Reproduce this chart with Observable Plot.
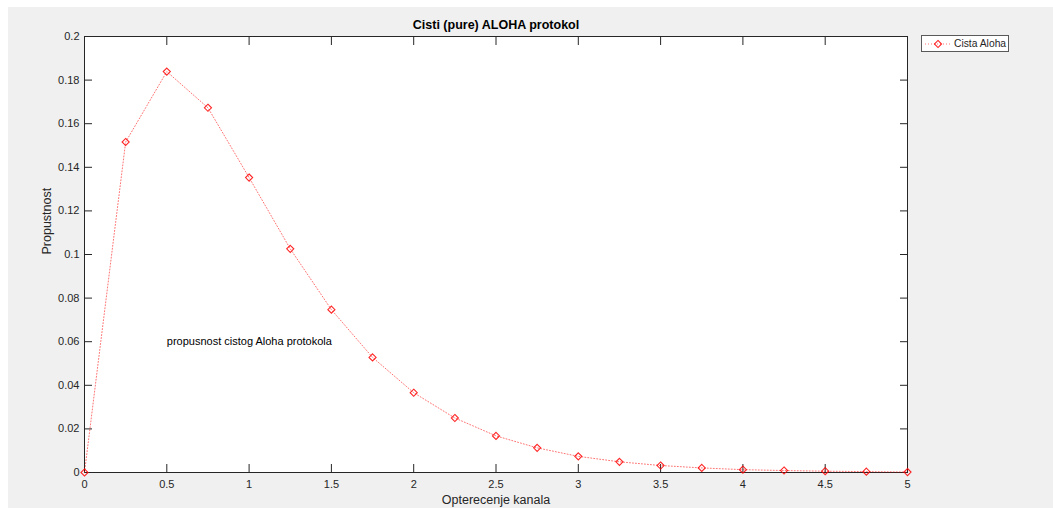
<!DOCTYPE html>
<html>
<head>
<meta charset="utf-8">
<script src="https://cdn.jsdelivr.net/npm/d3@7"></script>
<script src="https://cdn.jsdelivr.net/npm/@observablehq/plot@0.6"></script>
<style>
  html, body { margin: 0; padding: 0; background: #ffffff; }
  body { width: 1053px; height: 508px; position: relative; overflow: hidden; font-family: "Liberation Sans", Arial, sans-serif; }
  #bg { position: absolute; left: 8px; top: 7px; right: 0; bottom: 0; background: #f0f0f0; }
  #chart { position: absolute; left: 0; top: 0; }
  #legend { position: absolute; left: 921px; top: 35px; width: 86px; height: 15px; background: #ffffff; border: 1px solid #5a5a5a; display: flex; align-items: center; font-size: 10.3px; color: #262626; }
  #legend svg { margin-left: 3px; margin-right: 3px; }
</style>
</head>
<body>
<div id="bg"></div>
<div id="chart"></div>
<div id="legend"></div>
<script>
// Data
const offeredLoad = [0, 0.25, 0.5, 0.75, 1, 1.25, 1.5, 1.75, 2, 2.25, 2.5, 2.75, 3, 3.25, 3.5, 3.75, 4, 4.25, 4.5, 4.75, 5];
const throughput = [0, 0.1516, 0.1839, 0.1673, 0.1353, 0.1026, 0.0747, 0.0528, 0.0366, 0.0250, 0.0168, 0.0113, 0.0074, 0.0049, 0.0032, 0.0021, 0.0013, 0.0009, 0.0006, 0.0004, 0.0002];
const xTicks = [0, 0.5, 1, 1.5, 2, 2.5, 3, 3.5, 4, 4.5, 5];
const yTicks = [0, 0.02, 0.04, 0.06, 0.08, 0.1, 0.12, 0.14, 0.16, 0.18, 0.2];
const titleText = "Cisti (pure) ALOHA protokol";
const xLabelText = "Opterecenje kanala";
const yLabelText = "Propustnost";
const seriesName = "Cista Aloha";
const annotation = [{x: 0.5, y: 0.06, text: "propusnost cistog Aloha protokola"}];

const data = offeredLoad.map((x, i) => ({x, y: throughput[i]}));

const axisColor = "#262626";
const red = "#ff0000";

const plot = Plot.plot({
  width: 1053,
  height: 508,
  marginLeft: 84,
  marginRight: 146,
  marginTop: 36,
  marginBottom: 36,
  style: { background: "transparent", fontFamily: "'Liberation Sans', Arial, sans-serif", color: axisColor, overflow: "visible" },
  x: { domain: [0, 5] },
  y: { domain: [0, 0.2] },
  marks: [
    Plot.frame({ fill: "white" }),
    Plot.frame({ stroke: axisColor, strokeWidth: 1 }),
    Plot.axisX({ ticks: xTicks, tickSize: -8, tickPadding: 16, fontSize: 11, label: null, tickFormat: d => String(d), stroke: axisColor, fill: axisColor }),
    Plot.axisX({ anchor: "top", ticks: xTicks, tickSize: -8, tickFormat: () => "", label: null, stroke: axisColor }),
    Plot.axisY({ ticks: yTicks, tickSize: -8, tickPadding: 13, fontSize: 11, label: null, tickFormat: d => String(d), stroke: axisColor, fill: axisColor }),
    Plot.axisY({ anchor: "right", ticks: yTicks, tickSize: -8, tickFormat: () => "", label: null, stroke: axisColor }),
    Plot.line(data, { x: "x", y: "y", stroke: red, strokeWidth: 1, strokeDasharray: "1,2", strokeOpacity: 0.55 }),
    Plot.dot(data, { x: "x", y: "y", symbol: "diamond2", r: 3.2, stroke: red, strokeWidth: 1.1, strokeOpacity: 0.85, fill: "none" }),
    Plot.text(annotation, { x: "x", y: "y", text: "text", textAnchor: "start", lineAnchor: "middle", fontSize: 11, fill: "#000000" }),
    Plot.text([titleText], { frameAnchor: "top", dy: -12, lineAnchor: "middle", fontSize: 12.5, fontWeight: "bold", fill: "#000000" }),
    Plot.text([xLabelText], { frameAnchor: "bottom", dy: 27, lineAnchor: "middle", fontSize: 12.5, fill: axisColor }),
    Plot.text([yLabelText], { frameAnchor: "left", dx: -38, rotate: -90, lineAnchor: "middle", fontSize: 12.5, fill: axisColor })
  ]
});
document.getElementById("chart").appendChild(plot);

// Legend
const leg = document.getElementById("legend");
const sw = d3.create("svg").attr("width", 26).attr("height", 12);
sw.append("line").attr("x1", 0).attr("x2", 26).attr("y1", 6).attr("y2", 6)
  .attr("stroke", red).attr("stroke-dasharray", "1,2").attr("stroke-opacity", 0.55);
sw.append("path").attr("d", d3.symbol(d3.symbolDiamond2, Math.PI * 3.2 * 3.2)()).attr("transform", "translate(13,6)")
  .attr("fill", "none").attr("stroke", red).attr("stroke-width", 1.1).attr("stroke-opacity", 0.85);
leg.appendChild(sw.node());
const span = document.createElement("span");
span.textContent = seriesName;
leg.appendChild(span);
</script>
</body>
</html>
